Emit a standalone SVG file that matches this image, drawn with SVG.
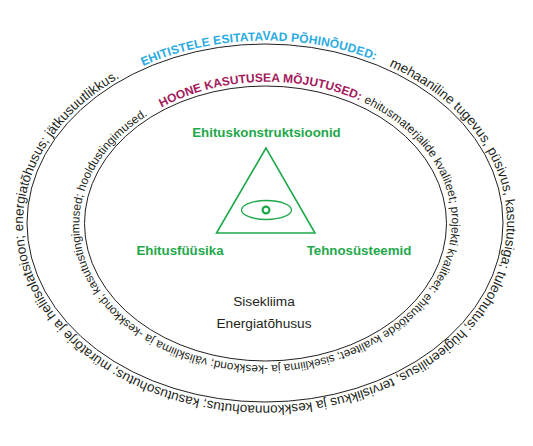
<svg xmlns="http://www.w3.org/2000/svg" xmlns:xlink="http://www.w3.org/1999/xlink" width="533" height="446" viewBox="0 0 533 446">
  <style>
    .ring { fill: none; stroke: #231f20; stroke-width: 1; }
    .arc { font-family: "Liberation Sans", Arial, sans-serif; fill: #231f20; }
    .req { font-weight: bold; fill: #29abe2; }
    .use { font-weight: bold; fill: #a3195b; }
    .lbl { font-family: "Liberation Sans", Arial, sans-serif; font-weight: bold; font-size: 13.3px; fill: #1fa84a; text-anchor: middle; }
    .core { font-family: "Liberation Sans", Arial, sans-serif; font-size: 13.7px; fill: #231f20; text-anchor: middle; }
    .tri { fill: none; stroke: #1fa84a; }
  </style>
  <defs>
    <path id="outerPath" d="M126.8,73.9 A241,182 0 1 1 403.2,372.1 A241,182 0 1 1 126.8,73.9"/>
    <path id="innerPath" d="M158.9,109 A184,140.5 0 1 1 372.1,338 A184,140.5 0 1 1 158.9,109"/>
  </defs>
  <rect width="533" height="446" fill="#ffffff"/>

  <g id="outer-ring">
    <ellipse class="ring" cx="265" cy="223" rx="238" ry="179"/>
    <text class="arc req" font-size="12"><textPath xlink:href="#outerPath" href="#outerPath" startOffset="18" textLength="238" lengthAdjust="spacing">EHITISTELE ESITATAVAD PÕHINÕUDED:</textPath></text>
    <text class="arc" font-size="13.5"><textPath xlink:href="#outerPath" href="#outerPath" startOffset="271" textLength="1060" lengthAdjust="spacing">mehaaniline tugevus, püsivus, kasutusiga; tuleohutus; hügieenilisus, tervislikkus ja keskkonnaohutus; kasutusohutus; müratõrje ja heliisolatsioon; energiatõhusus; jätkusuutlikkus.</textPath></text>
  </g>

  <g id="inner-ring">
    <ellipse class="ring" cx="265.5" cy="223.5" rx="181" ry="137.5"/>
    <text class="arc use" font-size="12"><textPath xlink:href="#innerPath" href="#innerPath" startOffset="3" textLength="205" lengthAdjust="spacing">HOONE KASUTUSEA MÕJUTUSED:</textPath></text>
    <text class="arc" font-size="11.8"><textPath xlink:href="#innerPath" href="#innerPath" startOffset="212" textLength="809" lengthAdjust="spacing">ehitusmaterjalide kvaliteet; projekti kvaliteet; ehitustööde kvaliteet; sisekliima ja -keskkond; väliskliima ja -keskkond; kasutustingimused; hooldustingimused.</textPath></text>
  </g>

  <g id="triangle">
    <polygon class="tri" stroke-width="1.6" points="266,148 216.5,233 315,233"/>
    <ellipse class="tri" stroke-width="1.3" cx="266.5" cy="210" rx="25" ry="9.5"/>
    <circle class="tri" stroke-width="2.2" cx="266" cy="210" r="3.4"/>
  </g>

  <g id="label-ehituskonstruktsioonid"><text class="lbl" x="266.5" y="136.5">Ehituskonstruktsioonid</text></g>
  <g id="label-ehitusfuusika"><text class="lbl" x="180" y="254.5">Ehitusfüüsika</text></g>
  <g id="label-tehnosusteemid"><text class="lbl" x="359" y="254.5">Tehnosüsteemid</text></g>

  <g id="center-text">
    <text class="core" x="264" y="305.5">Sisekliima</text>
    <text class="core" x="264" y="327.5">Energiatõhusus</text>
  </g>
</svg>
